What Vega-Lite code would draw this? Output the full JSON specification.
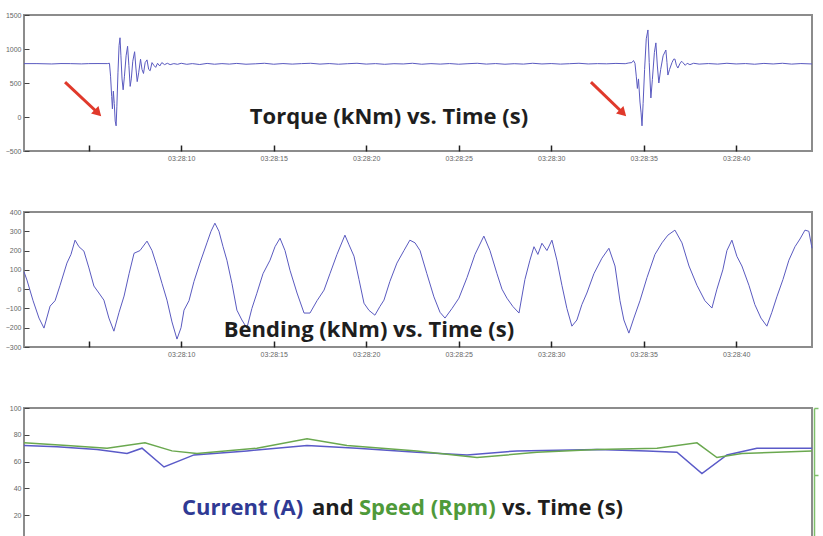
{
  "$schema": "https://vega.github.io/schema/vega-lite/v6.json",
  "background": "white",
  "padding": {"left": 4, "top": 10, "right": 0, "bottom": 0},
  "spacing": 45,
  "config": {
    "view": {"stroke": "#8c8c8c", "strokeWidth": 2},
    "axis": {"domain": false, "labelPadding": 3, "labelFontSize": 7, "labelColor": "#666", "labelFont": "Liberation Sans", "grid": false, "title": null, "format": "d"}
  },
  "datasets": {
    "torque": [
      {"t": 1.5, "v": 785}, {"t": 2.2, "v": 785}, {"t": 3.0, "v": 780}, {"t": 3.5, "v": 786}, {"t": 4.0, "v": 785}, {"t": 4.6, "v": 781}, {"t": 5.0, "v": 785}, {"t": 5.5, "v": 786}, {"t": 6.0, "v": 785}, {"t": 6.12, "v": 790},
      {"t": 6.18, "v": 600}, {"t": 6.24, "v": 300}, {"t": 6.28, "v": 120}, {"t": 6.33, "v": 380}, {"t": 6.38, "v": 200}, {"t": 6.43, "v": -60}, {"t": 6.48, "v": -130}, {"t": 6.52, "v": 150}, {"t": 6.58, "v": 650}, {"t": 6.64, "v": 1050}, {"t": 6.69, "v": 1165}, {"t": 6.74, "v": 900}, {"t": 6.8, "v": 560}, {"t": 6.86, "v": 400}, {"t": 6.93, "v": 600}, {"t": 7.02, "v": 900}, {"t": 7.1, "v": 1040}, {"t": 7.17, "v": 760}, {"t": 7.24, "v": 450}, {"t": 7.3, "v": 560}, {"t": 7.38, "v": 820}, {"t": 7.48, "v": 960}, {"t": 7.55, "v": 720}, {"t": 7.62, "v": 520}, {"t": 7.7, "v": 650}, {"t": 7.8, "v": 850}, {"t": 7.88, "v": 700}, {"t": 7.96, "v": 640}, {"t": 8.05, "v": 800}, {"t": 8.15, "v": 840}, {"t": 8.24, "v": 700}, {"t": 8.32, "v": 680}, {"t": 8.42, "v": 800}, {"t": 8.52, "v": 760}, {"t": 8.62, "v": 730}, {"t": 8.72, "v": 790}, {"t": 8.84, "v": 750}, {"t": 8.95, "v": 800}, {"t": 9.1, "v": 770}, {"t": 9.25, "v": 790}, {"t": 9.4, "v": 770}, {"t": 9.6, "v": 785}, {"t": 9.8, "v": 775}, {"t": 10.0, "v": 790},
      {"t": 10.3, "v": 775}, {"t": 10.6, "v": 785}, {"t": 11.0, "v": 772}, {"t": 11.4, "v": 788}, {"t": 11.8, "v": 776}, {"t": 12.2, "v": 785}, {"t": 12.6, "v": 778}, {"t": 13.0, "v": 788}, {"t": 13.5, "v": 776}, {"t": 14.0, "v": 782}, {"t": 14.5, "v": 790}, {"t": 15.0, "v": 776}, {"t": 15.5, "v": 786}, {"t": 16.0, "v": 778}, {"t": 16.5, "v": 785}, {"t": 17.0, "v": 790}, {"t": 17.5, "v": 778}, {"t": 18.0, "v": 786}, {"t": 18.5, "v": 776}, {"t": 19.0, "v": 784}, {"t": 19.5, "v": 790}, {"t": 20.0, "v": 778}, {"t": 20.5, "v": 785}, {"t": 21.0, "v": 775}, {"t": 21.5, "v": 784}, {"t": 22.0, "v": 780}, {"t": 22.5, "v": 790}, {"t": 23.0, "v": 776}, {"t": 23.5, "v": 785}, {"t": 24.0, "v": 778}, {"t": 24.5, "v": 786}, {"t": 25.0, "v": 776}, {"t": 25.5, "v": 784}, {"t": 26.0, "v": 790}, {"t": 26.5, "v": 778}, {"t": 27.0, "v": 786}, {"t": 27.5, "v": 776}, {"t": 28.0, "v": 784}, {"t": 28.5, "v": 778}, {"t": 29.0, "v": 790}, {"t": 29.5, "v": 780}, {"t": 30.0, "v": 786}, {"t": 30.5, "v": 778}, {"t": 31.0, "v": 784}, {"t": 31.5, "v": 790}, {"t": 32.0, "v": 780}, {"t": 32.5, "v": 785}, {"t": 33.0, "v": 782}, {"t": 33.5, "v": 788}, {"t": 34.0, "v": 784}, {"t": 34.2, "v": 795}, {"t": 34.36, "v": 800},
      {"t": 34.45, "v": 830}, {"t": 34.53, "v": 790}, {"t": 34.6, "v": 600}, {"t": 34.66, "v": 420}, {"t": 34.72, "v": 560}, {"t": 34.8, "v": 220}, {"t": 34.86, "v": 60}, {"t": 34.91, "v": -130}, {"t": 34.97, "v": 200}, {"t": 35.05, "v": 700}, {"t": 35.14, "v": 1150}, {"t": 35.23, "v": 1280}, {"t": 35.3, "v": 800}, {"t": 35.39, "v": 280}, {"t": 35.47, "v": 550}, {"t": 35.58, "v": 950}, {"t": 35.66, "v": 1090}, {"t": 35.74, "v": 750}, {"t": 35.82, "v": 500}, {"t": 35.92, "v": 700}, {"t": 36.05, "v": 900}, {"t": 36.2, "v": 985}, {"t": 36.26, "v": 800}, {"t": 36.31, "v": 617}, {"t": 36.4, "v": 700}, {"t": 36.53, "v": 800}, {"t": 36.62, "v": 850}, {"t": 36.69, "v": 852}, {"t": 36.77, "v": 760}, {"t": 36.85, "v": 720}, {"t": 36.95, "v": 780}, {"t": 37.05, "v": 820}, {"t": 37.12, "v": 800}, {"t": 37.25, "v": 760}, {"t": 37.35, "v": 790}, {"t": 37.5, "v": 770}, {"t": 37.7, "v": 790}, {"t": 38.0, "v": 778}, {"t": 38.5, "v": 786}, {"t": 39.0, "v": 778}, {"t": 39.5, "v": 790}, {"t": 40.0, "v": 780}, {"t": 40.5, "v": 786}, {"t": 41.0, "v": 776}, {"t": 41.5, "v": 788}, {"t": 42.0, "v": 780}, {"t": 42.5, "v": 790}, {"t": 43.0, "v": 778}, {"t": 43.5, "v": 786}, {"t": 44.1, "v": 780}
    ],
    "bending": [
      {"t": 1.5, "v": 90}, {"t": 1.66, "v": 47}, {"t": 1.99, "v": -60}, {"t": 2.31, "v": -150}, {"t": 2.58, "v": -202}, {"t": 2.91, "v": -88}, {"t": 3.18, "v": -60}, {"t": 3.45, "v": 20}, {"t": 3.82, "v": 135}, {"t": 4.04, "v": 180}, {"t": 4.26, "v": 254}, {"t": 4.47, "v": 220}, {"t": 4.74, "v": 197}, {"t": 5.01, "v": 110}, {"t": 5.28, "v": 16}, {"t": 5.55, "v": -20}, {"t": 5.82, "v": -57}, {"t": 6.09, "v": -150}, {"t": 6.36, "v": -218}, {"t": 6.64, "v": -120}, {"t": 6.91, "v": -36}, {"t": 7.18, "v": 80}, {"t": 7.45, "v": 186}, {"t": 7.77, "v": 200}, {"t": 8.15, "v": 249}, {"t": 8.42, "v": 200}, {"t": 8.69, "v": 119}, {"t": 8.96, "v": 30}, {"t": 9.23, "v": -57}, {"t": 9.5, "v": -170}, {"t": 9.77, "v": -259}, {"t": 9.99, "v": -200}, {"t": 10.15, "v": -109}, {"t": 10.42, "v": -60}, {"t": 10.69, "v": 40}, {"t": 11.01, "v": 135}, {"t": 11.39, "v": 240}, {"t": 11.61, "v": 300}, {"t": 11.82, "v": 342}, {"t": 12.04, "v": 300}, {"t": 12.26, "v": 220}, {"t": 12.47, "v": 150}, {"t": 12.74, "v": 30}, {"t": 13.01, "v": -109}, {"t": 13.28, "v": -160}, {"t": 13.55, "v": -202}, {"t": 13.82, "v": -100}, {"t": 14.09, "v": -21}, {"t": 14.42, "v": 80}, {"t": 14.8, "v": 150}, {"t": 15.07, "v": 220}, {"t": 15.34, "v": 264}, {"t": 15.61, "v": 200}, {"t": 15.88, "v": 98}, {"t": 16.26, "v": -20}, {"t": 16.64, "v": -124}, {"t": 16.96, "v": -124}, {"t": 17.34, "v": -60}, {"t": 17.72, "v": -5}, {"t": 18.04, "v": 80}, {"t": 18.42, "v": 180}, {"t": 18.85, "v": 280}, {"t": 19.07, "v": 230}, {"t": 19.34, "v": 171}, {"t": 19.61, "v": 50}, {"t": 19.88, "v": -73}, {"t": 20.15, "v": -110}, {"t": 20.47, "v": -135}, {"t": 20.74, "v": -90}, {"t": 20.96, "v": -57}, {"t": 21.28, "v": 40}, {"t": 21.66, "v": 135}, {"t": 22.04, "v": 200}, {"t": 22.36, "v": 254}, {"t": 22.64, "v": 240}, {"t": 22.91, "v": 200}, {"t": 23.28, "v": 80}, {"t": 23.66, "v": -40}, {"t": 23.99, "v": -120}, {"t": 24.26, "v": -150}, {"t": 24.64, "v": -100}, {"t": 25.01, "v": -47}, {"t": 25.45, "v": 60}, {"t": 25.88, "v": 180}, {"t": 26.36, "v": 275}, {"t": 26.69, "v": 200}, {"t": 27.07, "v": 80}, {"t": 27.34, "v": 0}, {"t": 27.61, "v": -47}, {"t": 27.93, "v": -90}, {"t": 28.26, "v": -124}, {"t": 28.58, "v": 50}, {"t": 28.85, "v": 150}, {"t": 29.07, "v": 220}, {"t": 29.28, "v": 180}, {"t": 29.5, "v": 238}, {"t": 29.77, "v": 200}, {"t": 30.04, "v": 254}, {"t": 30.31, "v": 150}, {"t": 30.58, "v": 20}, {"t": 30.85, "v": -100}, {"t": 31.12, "v": -192}, {"t": 31.39, "v": -160}, {"t": 31.66, "v": -80}, {"t": 31.93, "v": -20}, {"t": 32.31, "v": 80}, {"t": 32.74, "v": 160}, {"t": 33.12, "v": 212}, {"t": 33.45, "v": 120}, {"t": 33.72, "v": -60}, {"t": 33.93, "v": -160}, {"t": 34.2, "v": -228}, {"t": 34.47, "v": -150}, {"t": 34.8, "v": -60}, {"t": 35.18, "v": 60}, {"t": 35.61, "v": 180}, {"t": 35.99, "v": 240}, {"t": 36.31, "v": 280}, {"t": 36.69, "v": 306}, {"t": 37.07, "v": 240}, {"t": 37.45, "v": 120}, {"t": 37.88, "v": 20}, {"t": 38.31, "v": -60}, {"t": 38.69, "v": -98}, {"t": 38.96, "v": 0}, {"t": 39.28, "v": 100}, {"t": 39.5, "v": 200}, {"t": 39.77, "v": 254}, {"t": 40.04, "v": 170}, {"t": 40.31, "v": 120}, {"t": 40.69, "v": 20}, {"t": 41.01, "v": -80}, {"t": 41.34, "v": -150}, {"t": 41.66, "v": -192}, {"t": 41.93, "v": -120}, {"t": 42.2, "v": -40}, {"t": 42.53, "v": 50}, {"t": 42.85, "v": 150}, {"t": 43.18, "v": 220}, {"t": 43.45, "v": 260}, {"t": 43.72, "v": 306}, {"t": 43.93, "v": 300}, {"t": 44.1, "v": 212}
    ],
    "current": [
      {"t": 1.5, "v": 72}, {"t": 3.28, "v": 71}, {"t": 5.45, "v": 69}, {"t": 7.07, "v": 66}, {"t": 7.88, "v": 70}, {"t": 9.07, "v": 56}, {"t": 10.69, "v": 65}, {"t": 13.55, "v": 68}, {"t": 16.8, "v": 72}, {"t": 19.5, "v": 70}, {"t": 22.74, "v": 67}, {"t": 25.45, "v": 65}, {"t": 28.15, "v": 68}, {"t": 32.47, "v": 69}, {"t": 35.18, "v": 68}, {"t": 36.8, "v": 67}, {"t": 38.15, "v": 51}, {"t": 39.5, "v": 65}, {"t": 41.12, "v": 70}, {"t": 44.1, "v": 70}
    ],
    "speed": [
      {"t": 1.5, "rpm": 1480}, {"t": 3.82, "rpm": 1440}, {"t": 5.99, "rpm": 1400}, {"t": 8.04, "rpm": 1480}, {"t": 9.5, "rpm": 1360}, {"t": 10.85, "rpm": 1320}, {"t": 14.09, "rpm": 1400}, {"t": 16.8, "rpm": 1540}, {"t": 18.96, "rpm": 1440}, {"t": 22.74, "rpm": 1360}, {"t": 25.99, "rpm": 1260}, {"t": 29.23, "rpm": 1340}, {"t": 32.47, "rpm": 1380}, {"t": 35.72, "rpm": 1400}, {"t": 37.88, "rpm": 1480}, {"t": 38.96, "rpm": 1260}, {"t": 40.31, "rpm": 1320}, {"t": 42.2, "rpm": 1340}, {"t": 44.1, "rpm": 1360}
    ],
    "arrows": [
      {"t": 3.72, "v": 514, "t2": 5.5, "v2": 59},
      {"t": 32.15, "v": 514, "t2": 33.88, "v2": 59}
    ],
    "titles": [
      {"panel": "torque", "part": "black", "t": 21.23, "v": 0, "label": "Torque (kNm) vs. Time (s)"},
      {"panel": "bending", "part": "black", "t": 20.15, "v": -212, "label": "Bending (kNm) vs. Time (s)"},
      {"panel": "current", "part": "current", "t": 10.04, "v": 25.4, "label": "Current (A)"},
      {"panel": "current", "part": "black", "t": 17.07, "v": 25.4, "label": "and"},
      {"panel": "current", "part": "speed", "t": 19.61, "v": 25.4, "label": "Speed (Rpm)"},
      {"panel": "current", "part": "black", "t": 27.34, "v": 25.4, "label": "vs. Time (s)"}
    ]
  },
  "vconcat": [
    {
      "width": 788, "height": 136,
      "layer": [
        {
          "data": {"name": "torque"},
          "mark": {"type": "line", "color": "#5a5ac0", "strokeWidth": 1},
          "encoding": {
            "x": {"field": "t", "type": "quantitative", "scale": {"domain": [1.5, 44.1], "nice": false, "zero": false},
                  "axis": {"tickSize": 6, "offset": -6, "tickColor": "#222", "tickWidth": 1.5, "values": [5, 10, 15, 20, 25, 30, 35, 40], "labelExpr": "datum.value == 5 ? '' : '03:28:' + (datum.value < 10 ? '0' : '') + datum.value"}},
            "y": {"field": "v", "type": "quantitative", "scale": {"domain": [-500, 1500], "nice": false},
                  "axis": {"tickSize": 5, "offset": -5, "tickColor": "#444", "tickWidth": 1, "values": [-500, 0, 500, 1000, 1500]}}
          }
        },
        {
          "data": {"name": "arrows"},
          "mark": {"type": "rule", "color": "#e0392b", "strokeWidth": 3},
          "encoding": {
            "x": {"field": "t", "type": "quantitative",
                  "axis": {"tickSize": 6, "offset": -6, "tickColor": "#222", "tickWidth": 1.5, "values": [5, 10, 15, 20, 25, 30, 35, 40], "labelExpr": "datum.value == 5 ? '' : '03:28:' + (datum.value < 10 ? '0' : '') + datum.value"}},
            "y": {"field": "v", "type": "quantitative",
                  "axis": {"tickSize": 5, "offset": -5, "tickColor": "#444", "tickWidth": 1, "values": [-500, 0, 500, 1000, 1500]}},
            "x2": {"field": "t2"},
            "y2": {"field": "v2"}
          }
        },
        {
          "data": {"name": "arrows"},
          "mark": {"type": "point", "shape": "triangle-up", "angle": 135, "filled": true, "color": "#e0392b", "size": 110, "opacity": 1},
          "encoding": {
            "x": {"field": "t2", "type": "quantitative",
                  "axis": {"tickSize": 6, "offset": -6, "tickColor": "#222", "tickWidth": 1.5, "values": [5, 10, 15, 20, 25, 30, 35, 40], "labelExpr": "datum.value == 5 ? '' : '03:28:' + (datum.value < 10 ? '0' : '') + datum.value"}},
            "y": {"field": "v2", "type": "quantitative",
                  "axis": {"tickSize": 5, "offset": -5, "tickColor": "#444", "tickWidth": 1, "values": [-500, 0, 500, 1000, 1500]}}
          }
        },
        {
          "data": {"name": "titles"},
          "transform": [{"filter": "datum.panel == 'torque'"}],
          "mark": {"type": "text", "font": "Open Sans", "fontSize": 22, "fontWeight": "bold", "color": "#1e1e1e", "align": "center", "baseline": "middle"},
          "encoding": {
            "x": {"field": "t", "type": "quantitative",
                  "axis": {"tickSize": 6, "offset": -6, "tickColor": "#222", "tickWidth": 1.5, "values": [5, 10, 15, 20, 25, 30, 35, 40], "labelExpr": "datum.value == 5 ? '' : '03:28:' + (datum.value < 10 ? '0' : '') + datum.value"}},
            "y": {"field": "v", "type": "quantitative",
                  "axis": {"tickSize": 5, "offset": -5, "tickColor": "#444", "tickWidth": 1, "values": [-500, 0, 500, 1000, 1500]}},
            "text": {"field": "label"}
          }
        }
      ]
    },
    {
      "width": 788, "height": 135,
      "layer": [
        {
          "data": {"name": "bending"},
          "mark": {"type": "line", "color": "#5a5ac0", "strokeWidth": 1},
          "encoding": {
            "x": {"field": "t", "type": "quantitative", "scale": {"domain": [1.5, 44.1], "nice": false, "zero": false},
                  "axis": {"tickSize": 6, "offset": -6, "tickColor": "#222", "tickWidth": 1.5, "values": [5, 10, 15, 20, 25, 30, 35, 40], "labelExpr": "datum.value == 5 ? '' : '03:28:' + (datum.value < 10 ? '0' : '') + datum.value"}},
            "y": {"field": "v", "type": "quantitative", "scale": {"domain": [-300, 400], "nice": false},
                  "axis": {"tickSize": 5, "offset": -5, "tickColor": "#444", "tickWidth": 1, "values": [-300, -200, -100, 0, 100, 200, 300, 400]}}
          }
        },
        {
          "data": {"name": "titles"},
          "transform": [{"filter": "datum.panel == 'bending'"}],
          "mark": {"type": "text", "font": "Open Sans", "fontSize": 22, "fontWeight": "bold", "color": "#1e1e1e", "align": "center", "baseline": "middle"},
          "encoding": {
            "x": {"field": "t", "type": "quantitative",
                  "axis": {"tickSize": 6, "offset": -6, "tickColor": "#222", "tickWidth": 1.5, "values": [5, 10, 15, 20, 25, 30, 35, 40], "labelExpr": "datum.value == 5 ? '' : '03:28:' + (datum.value < 10 ? '0' : '') + datum.value"}},
            "y": {"field": "v", "type": "quantitative",
                  "axis": {"tickSize": 5, "offset": -5, "tickColor": "#444", "tickWidth": 1, "values": [-300, -200, -100, 0, 100, 200, 300, 400]}},
            "text": {"field": "label"}
          }
        }
      ]
    },
    {
      "width": 788, "height": 134,
      "layer": [
        {
          "layer": [
            {
              "data": {"name": "current"},
              "mark": {"type": "line", "color": "#5a5ac8", "strokeWidth": 1.5},
              "encoding": {
                "x": {"field": "t", "type": "quantitative", "scale": {"domain": [1.5, 44.1], "nice": false, "zero": false},
                      "axis": {"tickSize": 6, "offset": -6, "tickColor": "#222", "tickWidth": 1.5, "values": [5, 10, 15, 20, 25, 30, 35, 40], "labelExpr": "datum.value == 5 ? '' : '03:28:' + (datum.value < 10 ? '0' : '') + datum.value"}},
                "y": {"field": "v", "type": "quantitative", "scale": {"domain": [0, 100], "nice": false},
                      "axis": {"tickSize": 5, "offset": -5, "tickColor": "#444", "tickWidth": 1, "values": [0, 20, 40, 60, 80, 100]}}
              }
            },
            {
              "data": {"name": "titles"},
              "transform": [{"filter": "datum.panel == 'current'"}],
              "mark": {"type": "text", "font": "Open Sans", "fontSize": 22, "fontWeight": "bold", "align": "left", "baseline": "middle"},
              "encoding": {
                "x": {"field": "t", "type": "quantitative",
                      "axis": {"tickSize": 6, "offset": -6, "tickColor": "#222", "tickWidth": 1.5, "values": [5, 10, 15, 20, 25, 30, 35, 40], "labelExpr": "datum.value == 5 ? '' : '03:28:' + (datum.value < 10 ? '0' : '') + datum.value"}},
                "y": {"field": "v", "type": "quantitative",
                      "axis": {"tickSize": 5, "offset": -5, "tickColor": "#444", "tickWidth": 1, "values": [0, 20, 40, 60, 80, 100]}},
                "text": {"field": "label"},
                "color": {"field": "part", "type": "nominal", "scale": {"domain": ["black", "current", "speed"], "range": ["#1e1e1e", "#2f3a94", "#4f9a3a"]}, "legend": null}
              }
            }
          ]
        },
        {
          "data": {"name": "speed"},
          "mark": {"type": "line", "color": "#6aa84f", "strokeWidth": 1.5},
          "encoding": {
            "x": {"field": "t", "type": "quantitative",
                  "axis": {"tickSize": 6, "offset": -6, "tickColor": "#222", "tickWidth": 1.5, "values": [5, 10, 15, 20, 25, 30, 35, 40], "labelExpr": "datum.value == 5 ? '' : '03:28:' + (datum.value < 10 ? '0' : '') + datum.value"}},
            "y": {"field": "rpm", "type": "quantitative", "scale": {"domain": [0, 2000], "nice": false},
                  "axis": {"orient": "right", "labels": false, "values": [0, 1000, 2000], "domain": true, "domainColor": "#7fbf6a", "domainWidth": 1.5, "tickColor": "#7fbf6a", "tickWidth": 1.5, "tickSize": 4, "offset": 2}}
          }
        }
      ],
      "resolve": {"scale": {"y": "independent"}}
    }
  ]
}
